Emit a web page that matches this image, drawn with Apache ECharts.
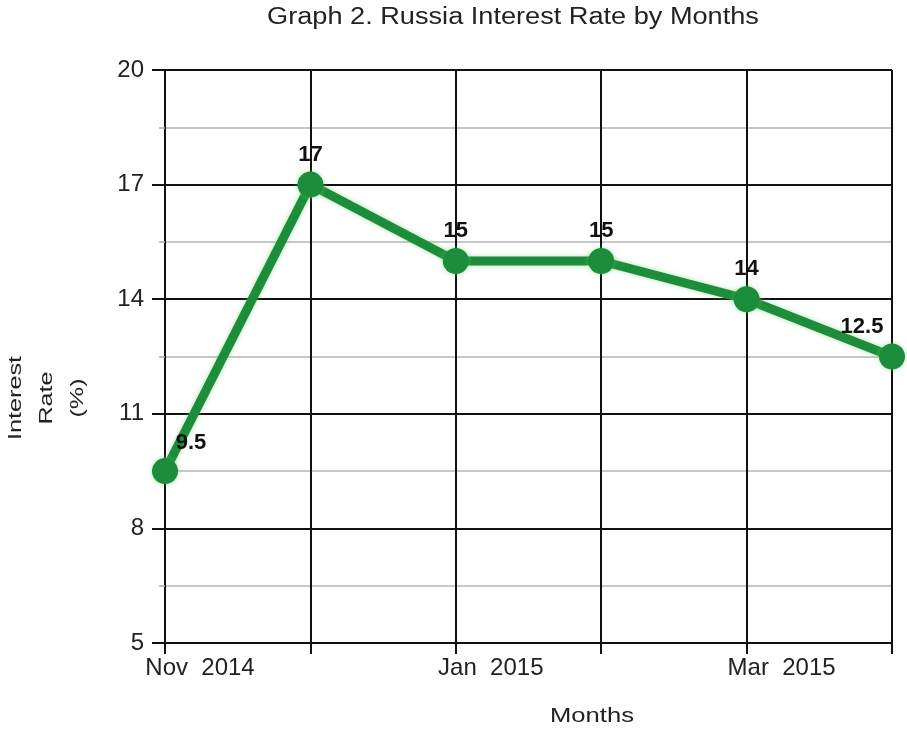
<!DOCTYPE html>
<html>
<head>
<meta charset="utf-8">
<title>Russia Interest Rate by Months</title>
<script src="https://cdn.jsdelivr.net/npm/echarts@6/dist/echarts.min.js"></script>
<style>
  html, body { margin: 0; padding: 0; background: #fff; }
  #chart { width: 907px; height: 731px; }
</style>
</head>
<body>
<div id="chart"></div>
<script>
// Monthly key rate of the Bank of Russia
const months = ['Nov  2014', 'Dec  2014', 'Jan  2015', 'Feb  2015', 'Mar  2015', 'Apr  2015'];
const rates = [9.5, 17, 15, 15, 14, 12.5];
const yTicks = { min: 5, max: 20, step: 3 };

const FONT = '"Liberation Sans", Arial, Helvetica, sans-serif';
const GREEN = '#1c8d3a';

// the first and last value labels sit beside the line ends
const labelOffsets = { 0: [26, 2], 5: [-30, 0] };

const seriesData = rates.map((v, i) => {
  const item = { value: v };
  if (labelOffsets[i]) item.label = { offset: labelOffsets[i] };
  return item;
});

const chart = echarts.init(document.getElementById('chart'), null, { renderer: 'canvas' });

chart.setOption({
  animation: false,
  backgroundColor: '#ffffff',
  grid: { left: 165, right: 15, top: 70, bottom: 88, containLabel: false },
  graphic: [
    {
      type: 'text',
      x: 513,
      y: 18,
      scaleX: 1.18,
      style: {
        text: 'Graph 2. Russia Interest Rate by Months',
        font: '23px ' + FONT,
        fill: '#222',
        align: 'center',
        verticalAlign: 'middle'
      }
    },
    {
      type: 'text',
      x: 47,
      y: 398,
      rotation: Math.PI / 2,
      scaleX: 1.4,
      style: {
        text: 'Interest\nRate\n(%)',
        font: '18px ' + FONT,
        fill: '#222',
        align: 'center',
        verticalAlign: 'middle',
        lineHeight: 31
      }
    },
    {
      type: 'text',
      x: 592,
      y: 716,
      scaleX: 1.22,
      style: {
        text: 'Months',
        font: '21px ' + FONT,
        fill: '#222',
        align: 'center',
        verticalAlign: 'middle'
      }
    }
  ],
  xAxis: {
    type: 'category',
    data: months,
    boundaryGap: false,
    axisLine: { show: true, lineStyle: { color: '#111', width: 2 } },
    axisTick: { show: true, interval: 0, length: 11, lineStyle: { color: '#111', width: 2 } },
    axisLabel: {
      interval: 1,
      color: '#222',
      fontFamily: FONT,
      fontSize: 24,
      margin: 13,
      align: 'center',
      padding: [0, 0, 0, 70]
    },
    splitLine: { show: true, interval: 0, lineStyle: { color: '#111', width: 2 } }
  },
  yAxis: {
    type: 'value',
    min: yTicks.min,
    max: yTicks.max,
    interval: yTicks.step,
    axisLine: { show: true, lineStyle: { color: '#111', width: 2 } },
    axisTick: { show: true, length: 13, lineStyle: { color: '#111', width: 2 } },
    minorTick: { show: true, splitNumber: 2, length: 6, lineStyle: { color: '#aaa', width: 1.5 } },
    minorSplitLine: { show: true, lineStyle: { color: '#b5b5b5', width: 1.5 } },
    axisLabel: {
      color: '#222',
      fontFamily: FONT,
      fontSize: 24,
      margin: 21
    },
    splitLine: { show: true, lineStyle: { color: '#111', width: 2 } }
  },
  series: [{
    type: 'line',
    data: seriesData,
    symbol: 'circle',
    symbolSize: 26,
    lineStyle: {
      color: GREEN,
      width: 9,
      shadowColor: 'rgba(110, 210, 110, 0.55)',
      shadowBlur: 5
    },
    itemStyle: {
      color: GREEN,
      shadowColor: 'rgba(110, 210, 110, 0.55)',
      shadowBlur: 5
    },
    label: {
      show: true,
      position: 'top',
      distance: 6,
      color: '#111',
      fontFamily: FONT,
      fontWeight: 'bold',
      fontSize: 22
    },
    z: 3
  }]
});
</script>
</body>
</html>
